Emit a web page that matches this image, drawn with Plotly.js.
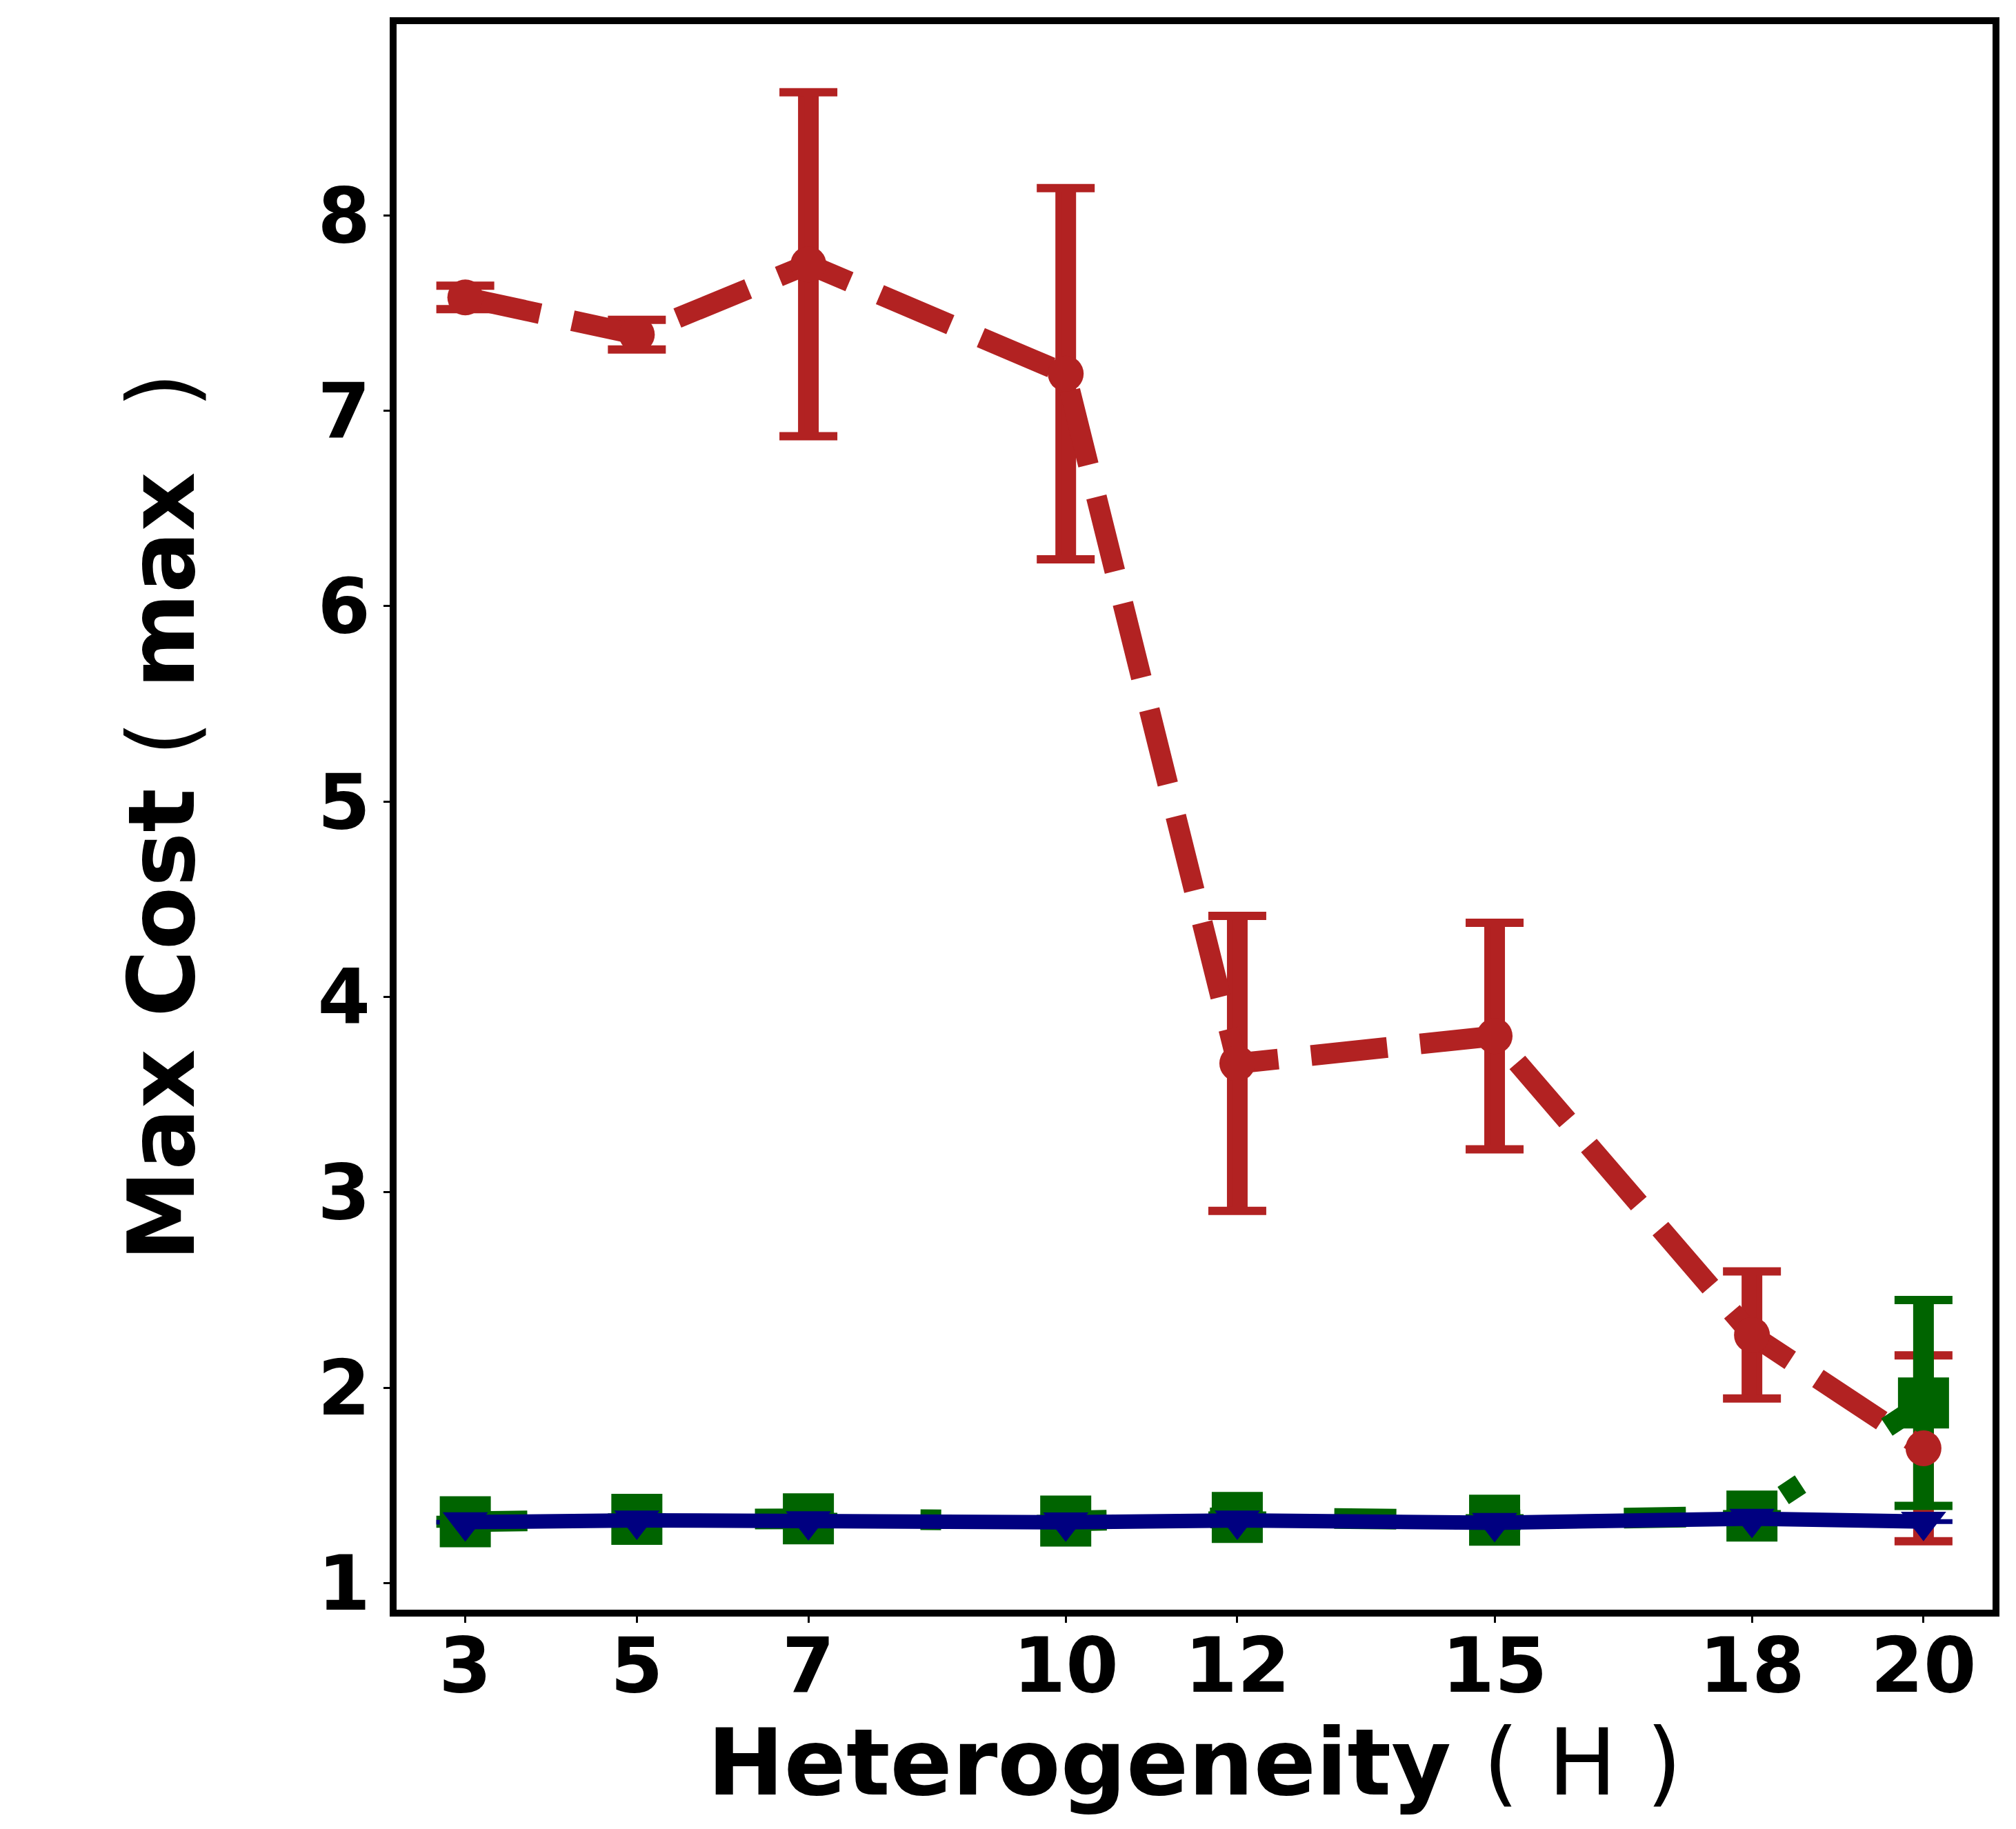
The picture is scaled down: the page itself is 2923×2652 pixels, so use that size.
<!DOCTYPE html>
<html>
<head>
<meta charset="utf-8">
<script src="https://cdn.plot.ly/plotly-3.0.1.min.js"></script>
<style>html,body{margin:0;padding:0;background:#fff;}</style>
</head>
<body>
<div id="chart" style="width:2923px;height:2652px;"></div>
<script>
// ---- data ----
const heterogeneity = [3, 5, 7, 10, 12, 15, 18, 20];
const xTickVals = [3, 5, 7, 10, 12, 15, 18, 20];
const yTickVals = [1, 2, 3, 4, 5, 6, 7, 8];

const redMean  = [7.58, 7.39, 7.75, 7.19, 3.66, 3.80, 2.27, 1.69];
const redErr   = [0.06, 0.076, 0.88, 0.95, 0.755, 0.58, 0.325, 0.476];

const greenMean = [1.314, 1.326, 1.329, 1.318, 1.336, 1.322, 1.343, 1.922];
const greenErr  = [0.01, 0.01, 0.01, 0.01, 0.01, 0.01, 0.01, 0.527];

const blueMean = [1.312, 1.321, 1.318, 1.311, 1.321, 1.309, 1.330, 1.315];
const blueErr  = [0.005, 0.005, 0.005, 0.005, 0.005, 0.005, 0.005, 0.005];

// ---- styles ----
const RED = '#B22222', GREEN = '#006400', BLUE = '#000080';

function errTrace(y, err, color, thick, capHalf) {
  return {
    x: heterogeneity, y: y, type: 'scatter', mode: 'markers',
    marker: {size: 1, color: 'rgba(0,0,0,0)'},
    error_y: {type: 'data', array: err, visible: true, color: color,
              thickness: thick, width: capHalf},
    hoverinfo: 'skip', showlegend: false
  };
}

const traces = [
  // error bar stems (no caps), then caps, in series order
  errTrace(redMean, redErr, RED, 30, 0),
  errTrace(redMean, redErr, RED, 12, 42),
  errTrace(greenMean, greenErr, GREEN, 30, 0),
  errTrace(greenMean, greenErr, GREEN, 12, 42),
  errTrace(blueMean, blueErr, BLUE, 4, 42),
  // data lines
  {x: heterogeneity, y: redMean, type: 'scatter', mode: 'lines+markers',
   line: {color: RED, width: 30, dash: '111px,48px', simplify: false},
   marker: {symbol: 'circle', size: 52, color: RED, line: {width: 0}}, showlegend: false},
  {x: heterogeneity, y: greenMean, type: 'scatter', mode: 'lines+markers',
   line: {color: GREEN, width: 30, dash: '90px,150px,30px,150px', simplify: false},
   marker: {symbol: 'square', size: 74, color: GREEN, line: {width: 0}}, showlegend: false},
  {x: heterogeneity, y: blueMean, type: 'scatter', mode: 'lines+markers',
   line: {color: BLUE, width: 21, simplify: false},
   marker: {symbol: 'triangle-down', size: 57, color: BLUE, line: {width: 0}}, showlegend: false}
];

const FONT = 'DejaVu Sans, sans-serif';
const layout = {
  width: 2923, height: 2652,
  paper_bgcolor: '#ffffff', plot_bgcolor: '#ffffff',
  margin: {l: 575, r: 34, t: 35, b: 318, pad: 0},
  showlegend: false,
  font: {family: FONT, color: '#000'},
  xaxis: {
    range: [2.199, 20.805], tickmode: 'array', tickvals: xTickVals,
    ticktext: xTickVals.map(String),
    showgrid: false, zeroline: false,
    showline: true, linecolor: '#000', linewidth: 10, mirror: true,
    ticks: 'outside', ticklen: 9, tickwidth: 3, tickcolor: '#000',
    ticklabelstandoff: -32,
    tickfont: {family: FONT, size: 110, color: '#000', weight: 'bold'},
    title: {text: 'Heterogeneity <span style="font-weight:normal">( H )</span>',
            font: {family: FONT, size: 133, color: '#000', weight: 'bold'}, standoff: 0}
  },
  yaxis: {
    range: [0.864, 8.979], tickmode: 'array', tickvals: yTickVals,
    ticktext: yTickVals.map(String),
    showgrid: false, zeroline: false,
    showline: true, linecolor: '#000', linewidth: 10, mirror: true,
    ticks: 'outside', ticklen: 9, tickwidth: 3, tickcolor: '#000',
    ticklabelstandoff: -3,
    tickfont: {family: FONT, size: 110, color: '#000', weight: 'bold'},
    title: {text: 'Max Cost <span style="font-weight:normal">(</span> max\u00a0\u00a0<span style="font-weight:normal">)</span>',
            font: {family: FONT, size: 133, color: '#000', weight: 'bold'}, standoff: 138}
  }
};

Plotly.newPlot('chart', traces, layout, {staticPlot: true, displayModeBar: false});
</script>
</body>
</html>
